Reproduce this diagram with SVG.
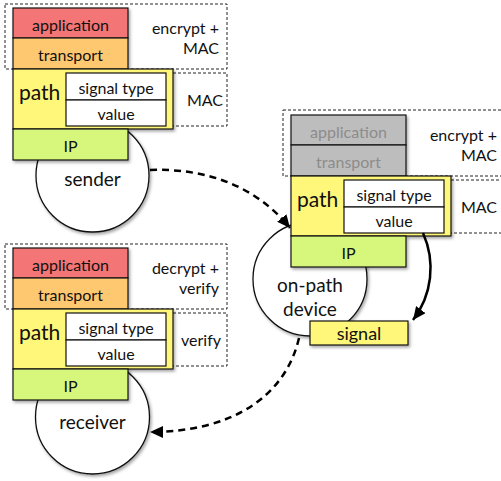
<svg xmlns="http://www.w3.org/2000/svg" width="501" height="481" viewBox="0 0 501 481">
<defs>
<style>
text{font-family:Lato,"Open Sans","Liberation Sans",sans-serif;fill:#111;}
.c{text-anchor:middle;dominant-baseline:central;}
.r{text-anchor:end;dominant-baseline:central;}
.l{dominant-baseline:central;}
.box{stroke:#111;stroke-width:1.2;}
.app{fill:#f47474;}
.tr{fill:#fdc870;}
.path{fill:#fff77a;}
.ip{fill:#d6f77c;}
.wh{fill:#fff;stroke:#111;stroke-width:1.2;}
.grey{fill:#bdbdbd;}
.gt{fill:#8c8c8c;}
.dash{fill:none;stroke:#222;stroke-width:1;stroke-dasharray:3,2;}
.node{fill:#fff;stroke:#111;stroke-width:1.3;}
.s15{font-size:16px;}
.big{font-size:21px;}
.nm{font-size:19px;}
.conn{fill:none;stroke:#000;stroke-width:2.5;}
.dsh{stroke-dasharray:7,5;}
</style>
<filter id="sh" x="-10%" y="-10%" width="130%" height="130%">
<feDropShadow dx="1.5" dy="2" stdDeviation="1.5" flood-color="#000" flood-opacity="0.35"/>
</filter>
<marker id="ah" markerUnits="userSpaceOnUse" markerWidth="14" markerHeight="12" refX="13" refY="6" orient="auto">
<path d="M0,0 L13,6 L0,12 z" fill="#000"/>
</marker>
</defs>

<g id="sender">
<circle class="node" cx="92.5" cy="175.5" r="56.5" filter="url(#sh)"/>
<text class="c nm" x="92.5" y="178">sender</text>
</g>
<g id="sender-stack">
<rect class="dash" x="5" y="4" width="222" height="65"/>
<rect class="dash" x="128" y="73" width="99" height="53"/>
<g filter="url(#sh)">
<rect class="box app" x="13" y="8" width="115" height="30"/>
<rect class="box tr" x="13" y="38" width="115" height="31"/>
<rect class="box path" x="13" y="69" width="160" height="60"/>
<rect class="box ip" x="13" y="129" width="115" height="31"/>
</g>
<rect class="wh" x="66" y="73" width="100" height="27"/>
<rect class="wh" x="66" y="100" width="100" height="26"/>
<text class="c s15" x="70.5" y="24">application</text>
<text class="c s15" x="70.5" y="54">transport</text>
<text class="l big" x="19" y="91">path</text>
<text class="c s15" x="116" y="87">signal type</text>
<text class="c s15" x="116" y="113.5">value</text>
<text class="c s15" x="70.5" y="145">IP</text>
<text class="r s15" x="219" y="27">encrypt +</text>
<text class="r s15" x="219" y="47">MAC</text>
<text class="c s15" x="205" y="99">MAC</text>
</g>

<g id="receiver">
<circle class="node" cx="92.5" cy="417" r="57" filter="url(#sh)"/>
<text class="c nm" x="92.5" y="421">receiver</text>
</g>
<g id="receiver-stack" transform="translate(0,240)">
<rect class="dash" x="5" y="4" width="222" height="65"/>
<rect class="dash" x="128" y="73" width="99" height="53"/>
<g filter="url(#sh)">
<rect class="box app" x="13" y="8" width="115" height="30"/>
<rect class="box tr" x="13" y="38" width="115" height="31"/>
<rect class="box path" x="13" y="69" width="160" height="60"/>
<rect class="box ip" x="13" y="129" width="115" height="31"/>
</g>
<rect class="wh" x="66" y="73" width="100" height="27"/>
<rect class="wh" x="66" y="100" width="100" height="26"/>
<text class="c s15" x="70.5" y="24">application</text>
<text class="c s15" x="70.5" y="54">transport</text>
<text class="l big" x="19" y="91">path</text>
<text class="c s15" x="116" y="87">signal type</text>
<text class="c s15" x="116" y="113.5">value</text>
<text class="c s15" x="70.5" y="145">IP</text>
<text class="r s15" x="219" y="27">decrypt +</text>
<text class="r s15" x="219" y="47">verify</text>
<text class="c s15" x="201" y="99">verify</text>
</g>

<g id="on-path-device">
<circle class="node" cx="310" cy="279" r="57" filter="url(#sh)"/>
<text class="c nm" x="310" y="284">on-path</text>
<text class="c nm" x="310" y="308">device</text>
</g>
<g id="on-path-stack" transform="translate(278,107)">
<rect class="dash" x="5" y="3" width="222" height="66"/>
<rect class="dash" x="128" y="73" width="99" height="53"/>
<g filter="url(#sh)">
<rect class="box grey" x="13" y="8" width="115" height="30"/>
<rect class="box grey" x="13" y="38" width="115" height="31"/>
<rect class="box path" x="13" y="69" width="160" height="60"/>
<rect class="box ip" x="13" y="129" width="115" height="31"/>
</g>
<rect class="wh" x="66" y="73" width="100" height="27"/>
<rect class="wh" x="66" y="100" width="100" height="26"/>
<text class="c s15 gt" x="70.5" y="24">application</text>
<text class="c s15 gt" x="70.5" y="54">transport</text>
<text class="l big" x="19" y="91">path</text>
<text class="c s15" x="116" y="87">signal type</text>
<text class="c s15" x="116" y="113.5">value</text>
<text class="c s15" x="70.5" y="145">IP</text>
<text class="r s15" x="219" y="27">encrypt +</text>
<text class="r s15" x="219" y="47">MAC</text>
<text class="c s15" x="201" y="99">MAC</text>
</g>

<g id="signal">
<rect class="box path" x="310" y="321" width="98" height="24" filter="url(#sh)"/>
<text class="c" style="font-size:18px" x="359" y="333">signal</text>
</g>

<g id="connectors">
<path class="conn dsh" d="M150,170 C205,168 255,185 290,228" marker-end="url(#ah)"/>
<path class="conn dsh" d="M299,338 C285,398 230,432 150,432" marker-end="url(#ah)"/>
<path class="conn" stroke-width="2" d="M423,233 C436,262 432,295 413,320" marker-end="url(#ah)"/>
</g>
</svg>
